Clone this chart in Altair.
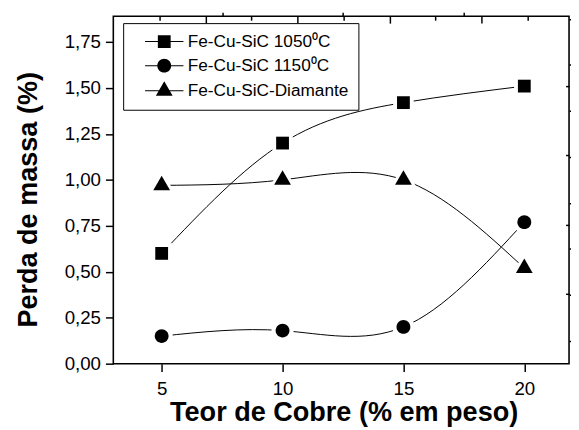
import altair as alt
import pandas as pd

# ---- data ----
teor = [5, 10, 15, 20]
serie_nomes = ["Fe-Cu-SiC 1050⁰C", "Fe-Cu-SiC 1150⁰C", "Fe-Cu-SiC-Diamante"]
perda_1050 = [0.60, 1.20, 1.42, 1.51]
perda_1150 = [0.15, 0.18, 0.20, 0.77]
perda_diam = [0.97, 1.00, 1.00, 0.52]

x_major = [5, 10, 15, 20]
x_minor = [7.5, 12.5, 17.5]
y_major = [0.0, 0.25, 0.5, 0.75, 1.0, 1.25, 1.5, 1.75]
y_minor = [0.125, 0.375, 0.625, 0.875, 1.125, 1.375, 1.625, 1.875]
top_major = [1, 2, 3, 4]
top_minor = [0.5, 1.5, 2.5, 3.5, 4.5]
right_major = [1, 2, 3, 4]

rows = []
for nome, vals in zip(serie_nomes, [perda_1050, perda_1150, perda_diam]):
    for t, v in zip(teor, vals):
        rows.append({"teor": t, "perda": v, "serie": nome})
df = pd.DataFrame(rows)

FONT = "Liberation Sans"
W, H = 463, 353

xs = alt.Scale(domain=[3, 21.85], nice=False, zero=False)
ys = alt.Scale(domain=[0, 1.89], nice=False, zero=False)

# marker shapes (custom paths, unit = sqrt(size)/2), all drawn clockwise
SQ = "M-1,-1H1V1H-1Z"
CI = "M-1.08,0A1.08,1.08,0,1,1,1.08,0A1.08,1.08,0,1,1,-1.08,0Z"
TR = "M0,-1.51L1.31,0.76L-1.31,0.76Z"
SEG = "M-3,-0.08H3V0.08H-3Z"
marker_scale = alt.Scale(domain=serie_nomes, range=[SQ, CI, TR])
legend_scale = alt.Scale(domain=serie_nomes, range=[SEG + SQ, SEG + CI, SEG + TR])

tick_common = dict(tickColor="black", tickWidth=1.5, grid=False, domain=False)

main_x_axis = alt.Axis(values=x_major, tickSize=8, format="d",
                       labelFont=FONT, labelFontSize=19, labelColor="black", labelPadding=8,
                       title="Teor de Cobre (% em peso)", titleFont=FONT, titleFontSize=27.5,
                       titleFontWeight="bold", titleColor="black", titleX=234, titleY=58,
                       titleBaseline="alphabetic", titleAlign="center", **tick_common)
main_y_axis = alt.Axis(values=y_major, tickSize=8,
                       labelExpr="replace(format(datum.value, '.2f'), '.', ',')",
                       labelFont=FONT, labelFontSize=19, labelColor="black", labelPadding=5,
                       title="Perda de massa (%)", titleFont=FONT, titleFontSize=27.5,
                       titleFontWeight="bold", titleColor="black", titleX=-78, titleY=186,
                       titleAngle=270, titleBaseline="alphabetic", titleAlign="center",
                       **tick_common)

lines = alt.Chart(df).mark_line(interpolate="natural", color="black", strokeWidth=1).encode(
    x=alt.X("teor:Q", scale=xs, axis=main_x_axis),
    y=alt.Y("perda:Q", scale=ys, axis=main_y_axis),
    detail="serie:N",
)

halo = alt.Chart(df).mark_point(filled=True, color="white", opacity=1, size=433).encode(
    x=alt.X("teor:Q", scale=xs, axis=None),
    y=alt.Y("perda:Q", scale=ys, axis=None),
    shape=alt.Shape("serie:N", scale=marker_scale, legend=None),
)

markers = alt.Chart(df).mark_point(filled=True, color="black", opacity=1, size=169).encode(
    x=alt.X("teor:Q", scale=xs, axis=None),
    y=alt.Y("perda:Q", scale=ys, axis=None),
    shape=alt.Shape("serie:N", scale=marker_scale, legend=None),
)

minor = alt.Chart(df).transform_filter("false").mark_point().encode(
    x=alt.X("teor:Q", scale=xs,
            axis=alt.Axis(values=x_minor, tickSize=4, labels=False, title=None, **tick_common)),
    y=alt.Y("perda:Q", scale=ys,
            axis=alt.Axis(values=y_minor, tickSize=4, labels=False, title=None, **tick_common)),
)

top_right = alt.Chart(df).transform_filter("false").mark_point().encode(
    x=alt.X("teor:Q", scale=alt.Scale(domain=[0, 4.95], nice=False, zero=False),
            axis=alt.Axis(orient="bottom", offset=-H, values=top_major, tickSize=7,
                          labels=False, title=None, **tick_common)),
    y=alt.Y("perda:Q", scale=alt.Scale(domain=[0, 5], nice=False, zero=False),
            axis=alt.Axis(orient="left", offset=-W, values=right_major, tickSize=3.5,
                          labels=False, title=None, **tick_common)),
)

top_minor_layer = alt.Chart(df).transform_filter("false").mark_point().encode(
    x=alt.X("teor:Q", scale=alt.Scale(domain=[0, 4.95], nice=False, zero=False),
            axis=alt.Axis(orient="bottom", offset=-H, values=top_minor, tickSize=4,
                          labels=False, title=None, **tick_common)),
)

legend_layer = alt.Chart(df).transform_filter("false").mark_point(
    filled=True, color="black", size=169).encode(
    shape=alt.Shape("serie:N", scale=legend_scale,
                    legend=alt.Legend(orient="none", legendX=10, legendY=7, title=None,
                                      labelFont=FONT, labelFontSize=17.5, labelColor="black",
                                      labelLimit=400, symbolSize=169, symbolOffset=23,
                                      labelOffset=15, rowPadding=5.5, padding=10,
                                      strokeColor="black", fillColor="white",
                                      symbolFillColor="black", symbolStrokeWidth=0,
                                      symbolOpacity=1)),
)

chart = alt.layer(
    lines, halo, markers, minor, top_right, top_minor_layer, legend_layer
).resolve_scale(
    x="independent", y="independent", shape="independent"
).properties(
    width=W, height=H, autosize="none",
    padding={"left": 107, "top": 5, "right": 2, "bottom": 64},
    background="white",
).configure_view(stroke="black", strokeWidth=1.6)

chart.save("out.html", embed_options={"renderer": "svg", "actions": False})
